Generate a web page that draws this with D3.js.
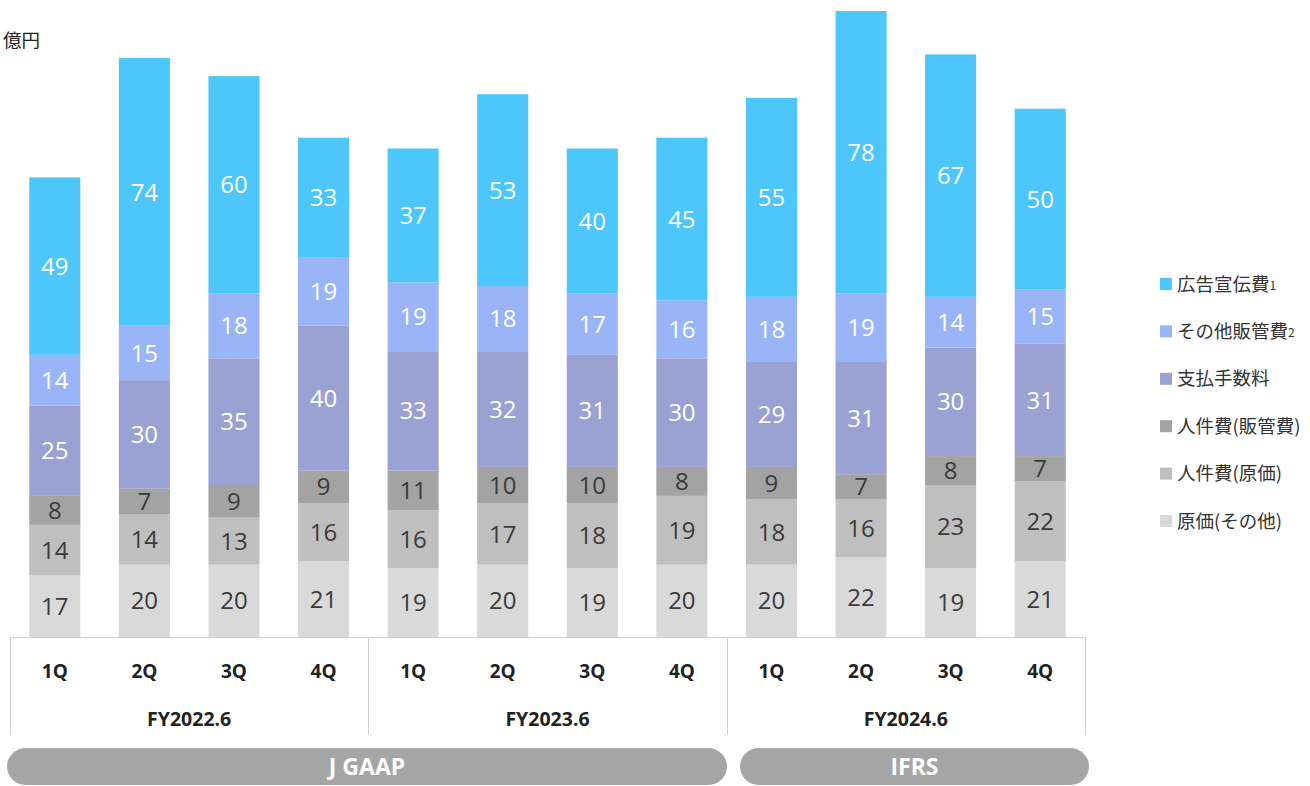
<!DOCTYPE html>
<html><head><meta charset="utf-8">
<script src="https://cdn.jsdelivr.net/npm/d3@7"></script>
<style>body{margin:0;background:#fff;} svg{display:block;}</style>
</head><body>
<svg id="c" width="1310" height="786"></svg>
<script>
const quarters = ["1Q","2Q","3Q","4Q","1Q","2Q","3Q","4Q","1Q","2Q","3Q","4Q"];
const fiscalYears = ["FY2022.6","FY2023.6","FY2024.6"];
const seriesNames = ["原価(その他)","人件費(原価)","人件費(販管費)","支払手数料","その他販管費","広告宣伝費"];
const genkaSonota = [17,20,20,21,19,20,19,20,20,22,19,21];
const jinkenGenka = [14,14,13,16,16,17,18,19,18,16,23,22];
const jinkenHankan = [8,7,9,9,11,10,10,8,9,7,8,7];
const shiharai = [25,30,35,40,33,32,31,30,29,31,30,31];
const sonotaHankan = [14,15,18,19,19,18,17,16,18,19,14,15];
const koukoku = [49,74,60,33,37,53,40,45,55,78,67,50];
const legendOrder = ["広告宣伝費","その他販管費","支払手数料","人件費(販管費)","人件費(原価)","原価(その他)"];
const legendSup = {"広告宣伝費":"1","その他販管費":"2"};
const standards = [{name:"J GAAP", from:0, to:8},{name:"IFRS", from:8, to:12}];
const unitLabel = "億円";

const colors = {"原価(その他)":"#d9d9d9","人件費(原価)":"#bfbfbf","人件費(販管費)":"#a3a3a3","支払手数料":"#9aa1d3","その他販管費":"#99b5f8","広告宣伝費":"#4cc6fb"};
const labelColor = {"原価(その他)":"#3a3a3a","人件費(原価)":"#3a3a3a","人件費(販管費)":"#3a3a3a","支払手数料":"#fff","その他販管費":"#fff","広告宣伝費":"#fff"};

const seriesData = [genkaSonota,jinkenGenka,jinkenHankan,shiharai,sonotaHankan,koukoku];
const rows = quarters.map((q,i)=>{const r={idx:i}; seriesNames.forEach((s,k)=>r[s]=seriesData[k][i]); return r;});
const stack = d3.stack().keys(seriesNames)(rows);

const svg = d3.select("#c");
const font = "'Open Sans', 'Noto Sans CJK JP', sans-serif";
const jfont = "'Noto Sans CJK JP', sans-serif";
const left = 10, right = 1085, base = 637;
const x = d3.scaleBand().domain(d3.range(12)).range([left,right]).paddingInner(0.43).paddingOuter(0.215);
const y = d3.scaleLinear().domain([0,173]).range([base,11]);

const g = svg.append("g");
stack.forEach(layer=>{
  const key = layer.key;
  g.selectAll(null).data(layer).join("rect")
    .attr("x",(d,i)=>x(i)).attr("width",x.bandwidth())
    .attr("y",d=>y(d[1])).attr("height",d=>y(d[0])-y(d[1]))
    .attr("fill",colors[key]);
  g.selectAll(null).data(layer).join("text")
    .attr("x",(d,i)=>x(i)+x.bandwidth()/2)
    .attr("y",d=>(y(d[0])+y(d[1]))/2)
    .attr("dy","0.36em").attr("text-anchor","middle")
    .attr("font-family",font).attr("font-size",24)
    .attr("fill",labelColor[key])
    .text(d=>d[1]-d[0]);
});

// axis frame
const ax = svg.append("g").attr("stroke","#d0d0d0").attr("stroke-width",1);
ax.append("line").attr("x1",left).attr("x2",right).attr("y1",base+0.5).attr("y2",base+0.5);
[0,4,8,12].forEach(k=>{
  const xx = k===0?left:(k===12?right:(x(k-1)+x.bandwidth()+x(k))/2);
  ax.append("line").attr("x1",Math.round(xx)+0.5).attr("x2",Math.round(xx)+0.5).attr("y1",base).attr("y2",735);
});
svg.append("g").selectAll("text").data(quarters).join("text")
  .attr("x",(d,i)=>x(i)+x.bandwidth()/2).attr("y",678)
  .attr("text-anchor","middle").attr("font-family",font).attr("font-weight","bold")
  .attr("font-size",19).attr("fill","#222").text(d=>d);
svg.append("g").selectAll("text").data(fiscalYears).join("text")
  .attr("x",(d,i)=>(x(i*4)+x(i*4+3)+x.bandwidth())/2).attr("y",726)
  .attr("text-anchor","middle").attr("font-family",font).attr("font-weight","bold")
  .attr("font-size",19.5).attr("fill","#222").text(d=>d);

// pills
const pillX = [7,740], pillR=[727,1089];
standards.forEach((s,i)=>{
  svg.append("rect").attr("x",pillX[i]).attr("y",748).attr("width",pillR[i]-pillX[i]).attr("height",37)
    .attr("rx",18.5).attr("fill","#a5a5a5");
  svg.append("text").attr("x",(pillX[i]+pillR[i])/2).attr("y",766.5).attr("dy","0.36em")
    .attr("text-anchor","middle").attr("font-family",font).attr("font-weight","bold")
    .attr("font-size",23).attr("fill","#fff").text(s.name);
});

// unit
svg.append("text").attr("x",3).attr("y",47).attr("font-family",jfont)
  .attr("font-size",18.5).attr("fill","#222").text(unitLabel);

// legend
const lg = svg.append("g");
legendOrder.forEach((name,i)=>{
  const yy = 284 + i*47.4;
  lg.append("rect").attr("x",1160).attr("y",yy-6).attr("width",12).attr("height",12).attr("fill",colors[name]);
  const t = lg.append("text").attr("x",1177).attr("y",yy).attr("dy","0.36em")
    .attr("font-family",jfont).attr("font-size",18.5).attr("fill","#333").text(name);
  if(legendSup[name]) t.append("tspan").attr("font-size",12).attr("dy","-0.05em").text(legendSup[name]);
});
</script>
</body></html>
